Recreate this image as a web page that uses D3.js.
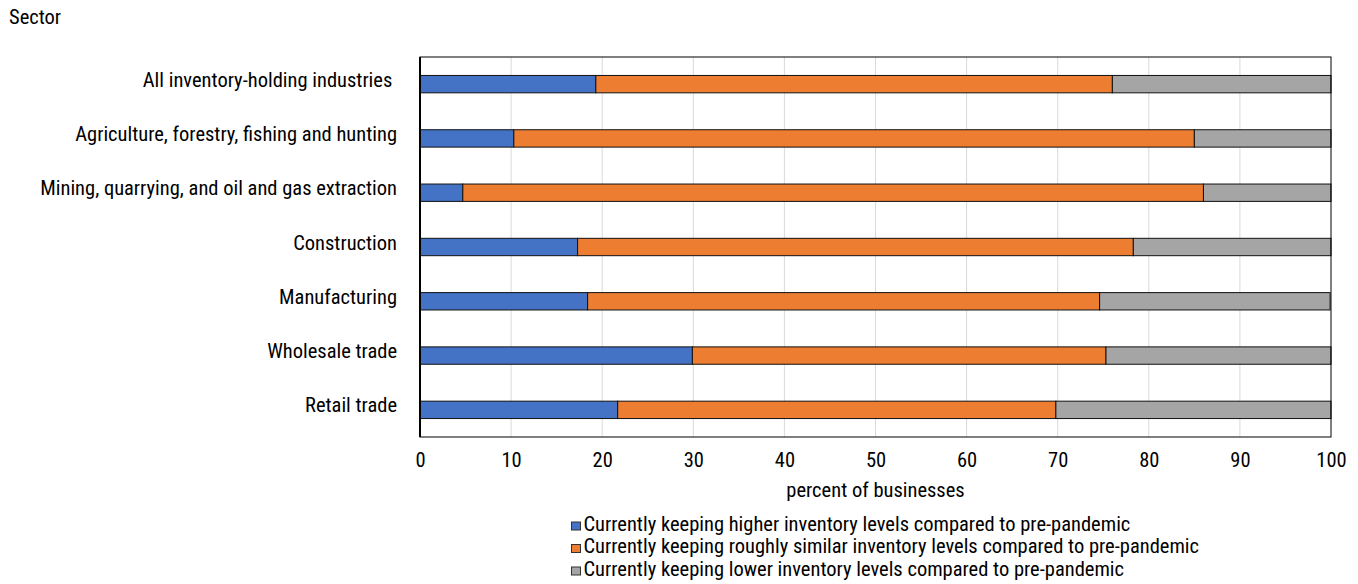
<!DOCTYPE html>
<html><head><meta charset="utf-8">
<script src="https://cdn.jsdelivr.net/npm/d3@7"></script>
<style>
body{margin:0;background:#fff;}
text{font-family:"Roboto Condensed","Liberation Sans Narrow",sans-serif;fill:#000;}
</style></head>
<body><svg id="c" width="1358" height="584"></svg>
<script>
const categories = ["All inventory-holding industries ","Agriculture, forestry, fishing and hunting","Mining, quarrying, and oil and gas extraction","Construction","Manufacturing","Wholesale trade","Retail trade"];
const higher = [19.3,10.3,4.7,17.3,18.4,29.9,21.7];
const similar = [56.7,74.7,81.3,61.0,56.2,45.4,48.1];
const lower = [24.0,15.0,14.0,21.7,25.3,24.7,30.2];
const seriesNames = ["Currently keeping higher inventory levels compared to pre-pandemic","Currently keeping roughly similar inventory levels compared to pre-pandemic","Currently keeping lower inventory levels compared to pre-pandemic"];
const colors = ["#4472C4","#ED7D31","#A5A5A5"];
const xTicks = [0,10,20,30,40,50,60,70,80,90,100];

const FS = 20.5;
const svg = d3.select("#c");
const m = {l:420, r:1331, t:57, b:437};
const x = d3.scaleLinear().domain([0,100]).range([m.l,m.r]);
const y = d3.scaleBand().domain(categories).range([m.t,m.b]).paddingInner(0.68).paddingOuter(0.34);

// gridlines
svg.append("g").selectAll("line").data(xTicks.slice(1,-1)).join("line")
  .attr("x1",d=>x(d)).attr("x2",d=>x(d)).attr("y1",m.t).attr("y2",m.b)
  .attr("stroke","#d9d9d9").attr("stroke-width",1);

const rows = categories.map((c,i)=>({cat:c, vals:[higher[i],similar[i],lower[i]]}));
const stack = d3.stack().keys([0,1,2]).value((d,k)=>d.vals[k]);
const series = stack(rows);
svg.append("g").selectAll("g").data(series).join("g")
  .attr("fill",(d,i)=>colors[i])
  .selectAll("rect").data(d=>d).join("rect")
  .attr("x",d=>x(d[0])).attr("width",d=>x(d[1])-x(d[0]))
  .attr("y",d=>y(d.data.cat)).attr("height",y.bandwidth())
  .attr("stroke","#111").attr("stroke-width",1);

// plot border
svg.append("rect").attr("x",m.l).attr("y",m.t).attr("width",m.r-m.l).attr("height",m.b-m.t)
  .attr("fill","none").attr("stroke","#000").attr("stroke-width",1);
svg.append("line").attr("x1",m.l).attr("x2",m.l).attr("y1",m.t).attr("y2",m.b).attr("stroke","#000").attr("stroke-width",2);

// x axis
const xa = svg.append("g").attr("transform",`translate(0,${m.b})`)
  .call(d3.axisBottom(x).tickValues(xTicks).tickSize(0).tickPadding(15));
xa.select(".domain").remove();
xa.selectAll("text").attr("font-size",FS).attr("font-family",null).attr("fill","#000");

// y labels
svg.append("g").selectAll("text").data(categories).join("text")
  .attr("x",397).attr("y",d=>y(d)+y.bandwidth()/2+2.5)
  .attr("text-anchor","end").attr("font-size",FS).style("white-space","pre").text(d=>d);

svg.append("text").attr("x",9).attr("y",24).attr("font-size",FS).text("Sector");
svg.append("text").attr("x",(m.l+m.r)/2).attr("y",497).attr("text-anchor","middle").attr("font-size",FS).text("percent of businesses");

// legend
const lg = svg.append("g").selectAll("g").data(seriesNames).join("g")
  .attr("transform",(d,i)=>`translate(571,${530.5+i*22.5})`);
lg.append("rect").attr("x",0.5).attr("y",-8.5).attr("width",9).attr("height",8)
  .attr("fill",(d,i)=>colors[i]).attr("stroke","#333").attr("stroke-width",1);
lg.append("text").attr("x",12.5).attr("y",0).attr("font-size",FS).text(d=>d);
</script></body></html>
